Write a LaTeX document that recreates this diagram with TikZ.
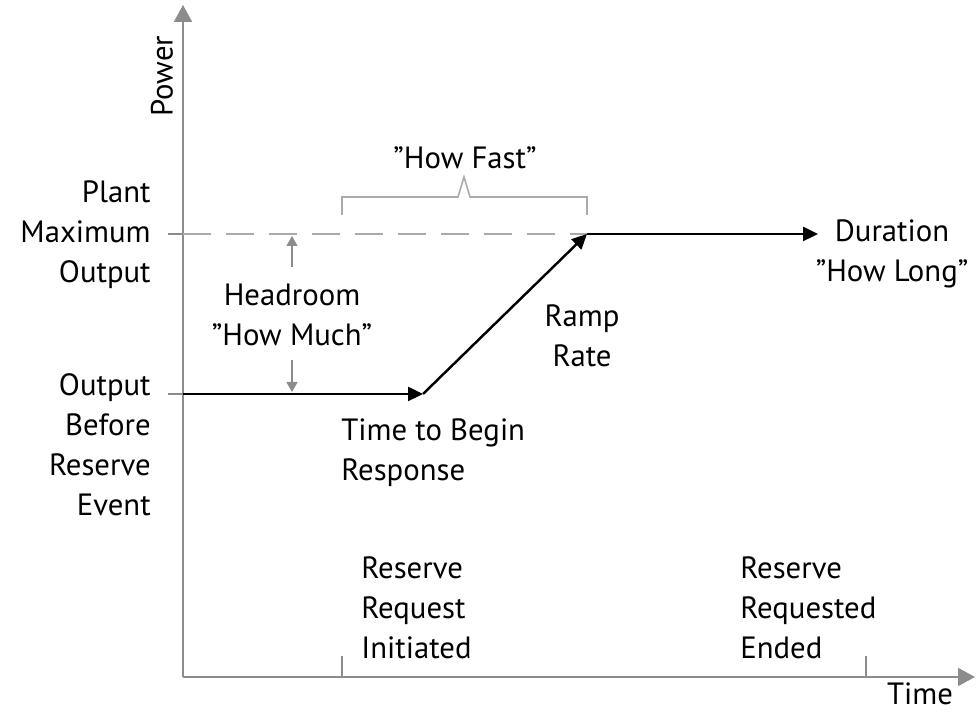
\documentclass[tikz,border=0pt]{standalone}
\usepackage{fontspec}
\setmainfont{PT Sans}
\usepackage{tikz}
\usetikzlibrary{arrows.meta, positioning}
\definecolor{axis}{RGB}{140, 140, 140}
\definecolor{light}{RGB}{170, 170, 170}
\tikzset{
  lbl/.style={font=\fontsize{17.5}{22.7}\selectfont, inner sep=0pt},
  resp/.style={line width=1.4pt, -{Triangle[length=0.3cm, width=0.28cm]}},
  grayarr/.style={axis, line width=0.8pt, -{Triangle[length=0.2cm, width=0.22cm]}}
}

\begin{document}
\begin{tikzpicture}[x=0.02cm, y=0.02cm]
  \useasboundingbox (0, 0) rectangle (977, 712);

  % axes
  \coordinate (O) at (183, 35);
  \coordinate (ytop) at (183, 707);
  \coordinate (xend) at (975, 35);
  \draw[axis, line width=1.1pt, -{Triangle[length=0.34cm, width=0.36cm]}] (O) -- (ytop);
  \draw[axis, line width=1.1pt, -{Triangle[length=0.34cm, width=0.36cm]}] (O) -- (xend);
  \node[lbl, rotate=90] (power) at (162, 636) {Power};
  \node[lbl] (time) at (920, 18) {Time};

  % levels
  \coordinate (start) at (183, 318);
  \coordinate (begin) at (423, 318);
  \coordinate (peak) at (587, 478);
  \coordinate (stop) at (818, 478);
  \draw[axis, line width=1pt] (168, 478) -- (183, 478);
  \draw[axis, line width=1pt] (168, 318) -- (183, 318);
  \draw[light, line width=0.9pt, dash pattern=on 0.56cm off 0.3cm] (183, 478) -- (peak);

  % time ticks
  \coordinate (ti) at (342, 35);
  \coordinate (te) at (866, 35);
  \draw[axis, line width=1pt] (ti) -- ++(0, 21);
  \draw[axis, line width=1pt] (te) -- ++(0, 21);

  % response
  \draw[resp] (start) -- (begin);
  \draw[resp] (begin) -- (peak);
  \draw[resp] (peak) -- (stop);

  % how fast bracket
  \draw[light, line width=0.9pt] (342, 497) -- (342, 515) -- (458, 515) -- (464, 535)
    -- (470, 515) -- (587, 515) -- (587, 497);
  \node[lbl] (fast) at (465, 554) {"How Fast"};

  % headroom
  \node[lbl, align=center] (head) at (292, 397) {Headroom\\"How Much"};
  \draw[grayarr] (292, 445) -- (292, 476);
  \draw[grayarr] (292, 352) -- (292, 320);

  \node[lbl, align=center] (ramp) at (582, 376) {Ramp\\Rate};
  \node[lbl, align=left, anchor=west] (tbegin) at (341, 259) {Time to Begin\\Response};
  \node[lbl, align=center] (dur) at (892, 458) {Duration\\"How Long"};

  % y labels
  \node[lbl, align=right, anchor=east] (pmax) at (151, 477) {Plant\\Maximum\\Output};
  \node[lbl, align=right, anchor=east] (pbefore) at (151, 267) {Output\\Before\\Reserve\\Event};

  % x labels
  \node[lbl, align=left, anchor=west] (rinit) at (361, 104) {Reserve\\Request\\Initiated};
  \node[lbl, align=left, anchor=west] (rend) at (740, 104) {Reserve\\Requested\\Ended};

\end{tikzpicture}
\end{document}
